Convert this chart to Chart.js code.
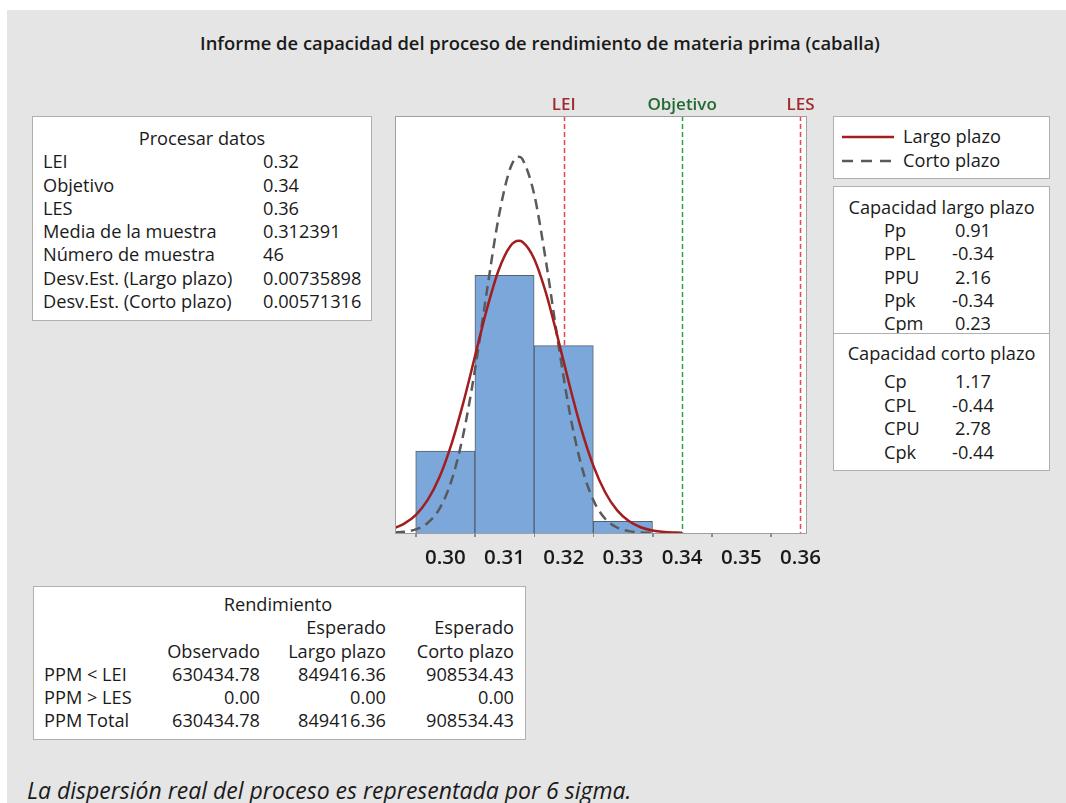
<!DOCTYPE html>
<html>
<head>
<meta charset="utf-8">
<script src="https://cdn.jsdelivr.net/npm/chart.js@4.4.1/dist/chart.umd.min.js"></script>
<style>
  html, body { margin: 0; padding: 0; background: #fff; }
  body { width: 1066px; height: 803px; position: relative; overflow: hidden;
         font-family: "Open Sans", "Noto Sans", sans-serif; color: #1a1a1a; }
  #panel { position: absolute; left: 7px; top: 10px; right: 0; bottom: 0; background: #e5e5e5; }
  .abs { position: absolute; }
  .box { position: absolute; background: #fff; border: 1px solid #b0b0b0; box-sizing: border-box; }
  #title { left: 0; width: 1080px; top: 30px; line-height: 26px; text-align: center; font-size: 18.4px; font-weight: 600; }
  .rows { font-size: 18.2px; line-height: 23.3px; }
  .rows td { padding: 0; white-space: nowrap; }
  table { border-collapse: collapse; }
  #foot { left: 27px; top: 774px; font-size: 23px; line-height: 32px; font-style: italic; }
  #chartWrap { left: 385px; top: 88px; width: 460px; height: 485px; }
</style>
</head>
<body>
<div id="panel"></div>
<div id="title" class="abs">Informe de capacidad del proceso de rendimiento de materia prima (caballa)</div>

<div class="box" style="left:32px; top:116px; width:340px; height:205px;">
  <div class="abs rows" style="left:0; width:338px; top:10px; text-align:center;">Procesar datos</div>
  <table class="rows" style="position:absolute; left:10px; top:33.3px;">
    <tr><td style="width:220px;">LEI</td><td>0.32</td></tr>
    <tr><td>Objetivo</td><td>0.34</td></tr>
    <tr><td>LES</td><td>0.36</td></tr>
    <tr><td>Media de la muestra</td><td>0.312391</td></tr>
    <tr><td>Número de muestra</td><td>46</td></tr>
    <tr><td>Desv.Est. (Largo plazo)</td><td>0.00735898</td></tr>
    <tr><td>Desv.Est. (Corto plazo)</td><td>0.00571316</td></tr>
  </table>
</div>

<div class="box" style="left:833px; top:116px; width:217px; height:63px;">
  <svg class="abs" style="left:7px; top:0;" width="60" height="60">
    <line x1="1" y1="20" x2="53" y2="20" stroke="#a31d1f" stroke-width="2.5"/>
    <line x1="1" y1="44" x2="53" y2="44" stroke="#5a5a5a" stroke-width="2.5" stroke-dasharray="11,8"/>
  </svg>
  <div class="abs rows" style="left:69px; top:7px; line-height:24px;">Largo plazo<br>Corto plazo</div>
</div>

<div class="box" style="left:833px; top:186px; width:217px; height:285px;">
  <div class="abs rows" style="left:0; width:215px; top:9px; text-align:center;">Capacidad largo plazo</div>
  <table class="rows" style="position:absolute; left:50px; top:32px;">
    <tr><td style="width:62px;">Pp</td><td style="width:54px; text-align:center;">0.91</td></tr>
    <tr><td>PPL</td><td style="text-align:center;">-0.34</td></tr>
    <tr><td>PPU</td><td style="text-align:center;">2.16</td></tr>
    <tr><td>Ppk</td><td style="text-align:center;">-0.34</td></tr>
    <tr><td>Cpm</td><td style="text-align:center;">0.23</td></tr>
  </table>
  <div class="abs" style="left:0; width:215px; top:146px; border-top:1px solid #b0b0b0;"></div>
  <div class="abs rows" style="left:0; width:215px; top:155px; text-align:center;">Capacidad corto plazo</div>
  <table class="rows" style="position:absolute; left:50px; top:183px; line-height:23.5px;">
    <tr><td style="width:62px;">Cp</td><td style="width:54px; text-align:center;">1.17</td></tr>
    <tr><td>CPL</td><td style="text-align:center;">-0.44</td></tr>
    <tr><td>CPU</td><td style="text-align:center;">2.78</td></tr>
    <tr><td>Cpk</td><td style="text-align:center;">-0.44</td></tr>
  </table>
</div>

<div class="box" style="left:33px; top:586px; width:493px; height:154px;">
  <div class="abs rows" style="left:184px; width:120px; top:6px; text-align:center;">Rendimiento</div>
  <table class="rows" style="position:absolute; left:10px; top:29.3px;">
    <tr><td style="width:100px;"></td><td style="width:116px;"></td><td style="width:126px; text-align:right;">Esperado</td><td style="width:128px; text-align:right;">Esperado</td></tr>
    <tr><td></td><td style="text-align:right;">Observado</td><td style="text-align:right;">Largo plazo</td><td style="text-align:right;">Corto plazo</td></tr>
    <tr><td>PPM &lt; LEI</td><td style="text-align:right;">630434.78</td><td style="text-align:right;">849416.36</td><td style="text-align:right;">908534.43</td></tr>
    <tr><td>PPM &gt; LES</td><td style="text-align:right;">0.00</td><td style="text-align:right;">0.00</td><td style="text-align:right;">0.00</td></tr>
    <tr><td>PPM Total</td><td style="text-align:right;">630434.78</td><td style="text-align:right;">849416.36</td><td style="text-align:right;">908534.43</td></tr>
  </table>
</div>

<div id="foot" class="abs">La dispersión real del proceso es representada por 6 sigma.</div>

<div id="chartWrap" class="abs"><canvas id="capChart"></canvas></div>

<script>
// histogram bins (centre, count)
var binCenters = [0.30, 0.31, 0.32, 0.33];
var binCounts = [7, 22, 16, 1];

// fitted curves (counts per bin width)
var longX = [0.2915, 0.293, 0.295, 0.297, 0.299, 0.301, 0.303, 0.305, 0.307, 0.309, 0.311, 0.3124, 0.313,
             0.315, 0.317, 0.319, 0.321, 0.323, 0.325, 0.327, 0.329, 0.331, 0.333, 0.335, 0.337, 0.339, 0.340];
var longY = [0.44, 0.78, 1.53, 2.80, 4.76, 7.53, 11.05, 15.06, 19.07, 22.43, 24.50, 24.94, 24.86,
             23.42, 20.50, 16.66, 12.58, 8.82, 5.75, 3.48, 1.95, 1.02, 0.49, 0.22, 0.09, 0.04, 0.02];
var shortX = [0.2915, 0.293, 0.295, 0.297, 0.299, 0.301, 0.303, 0.305, 0.307, 0.309, 0.311, 0.3124, 0.313,
              0.315, 0.317, 0.319, 0.321, 0.323, 0.325, 0.327, 0.329, 0.331, 0.333, 0.335];
var shortY = [0.04, 0.10, 0.31, 0.85, 2.06, 4.40, 8.32, 13.91, 20.58, 26.93, 31.18, 32.12, 31.94,
              28.94, 23.20, 16.45, 10.32, 5.73, 2.81, 1.22, 0.47, 0.16, 0.05, 0.01];

// spec limits
var specValues = [0.32, 0.34, 0.36];
var specLabels = ['LEI', 'Objetivo', 'LES'];
var specLineColors = ['#e8464b', '#27a844', '#e8464b'];
var specTextColors = ['#9e2a2e', '#216b33', '#9e2a2e'];

// axis
var tickValues = [0.30, 0.31, 0.32, 0.33, 0.34, 0.35, 0.36];
var minorTickValues = [0.295, 0.305, 0.315, 0.325, 0.335, 0.345, 0.355];

function pairs(xs, ys) {
    return xs.map(function (x, i) { return { x: x, y: ys[i] }; });
}

var plotFrame = {
    id: 'plotFrame',
    beforeDraw: function (chart) {
        var ctx = chart.ctx, a = chart.chartArea;
        ctx.save();
        ctx.fillStyle = '#fff';
        ctx.fillRect(a.left, a.top, a.right - a.left, a.bottom - a.top);
        ctx.restore();
    },
    beforeDatasetsDraw: function (chart) {
        var ctx = chart.ctx, a = chart.chartArea, xs = chart.scales.x;
        ctx.save();
        ctx.lineWidth = 1.5;
        ctx.setLineDash([5, 3]);
        specValues.forEach(function (v, i) {
            var px = Math.round(xs.getPixelForValue(v)) + 0.5;
            ctx.strokeStyle = specLineColors[i];
            ctx.beginPath();
            ctx.moveTo(px, a.top);
            ctx.lineTo(px, a.bottom);
            ctx.stroke();
        });
        ctx.restore();
    },
    afterDraw: function (chart) {
        var ctx = chart.ctx, a = chart.chartArea, xs = chart.scales.x;
        ctx.save();
        ctx.strokeStyle = '#a0a0a0';
        ctx.lineWidth = 1;
        ctx.strokeRect(a.left + 0.5, a.top + 0.5, a.right - a.left - 1, a.bottom - a.top);
        ctx.strokeStyle = '#8c8c8c';
        minorTickValues.forEach(function (v) {
            var px = Math.round(xs.getPixelForValue(v)) + 0.5;
            ctx.beginPath();
            ctx.moveTo(px, a.bottom);
            ctx.lineTo(px, a.bottom + 4);
            ctx.stroke();
        });
        ctx.font = '600 17px "Open Sans", sans-serif';
        ctx.textAlign = 'center';
        ctx.textBaseline = 'middle';
        specValues.forEach(function (v, i) {
            ctx.fillStyle = specTextColors[i];
            ctx.fillText(specLabels[i], xs.getPixelForValue(v), a.top - 11);
        });
        ctx.restore();
    }
};

new Chart(document.getElementById('capChart'), {
    type: 'bar',
    data: {
        datasets: [
            {
                type: 'line',
                label: 'Largo plazo',
                data: pairs(longX, longY),
                borderColor: '#a31d1f',
                borderWidth: 2.5,
                pointRadius: 0,
                fill: false,
                cubicInterpolationMode: 'monotone',
                order: 1
            },
            {
                type: 'line',
                label: 'Corto plazo',
                data: pairs(shortX, shortY),
                borderColor: '#5a5a5a',
                borderWidth: 2.5,
                borderDash: [10, 6],
                pointRadius: 0,
                fill: false,
                cubicInterpolationMode: 'monotone',
                order: 2
            },
            {
                label: 'Frecuencia',
                data: pairs(binCenters, binCounts),
                backgroundColor: '#7ba7da',
                borderColor: '#575f6c',
                borderWidth: 1,
                barPercentage: 1,
                categoryPercentage: 1,
                order: 3
            }
        ]
    },
    options: {
        responsive: true,
        maintainAspectRatio: false,
        animation: false,
        layout: { padding: { left: 10, top: 28, right: 38, bottom: 0 } },
        plugins: { legend: { display: false }, tooltip: { enabled: false } },
        scales: {
            x: {
                type: 'linear',
                min: 0.2915,
                max: 0.3611,
                offset: false,
                afterBuildTicks: function (axis) {
                    axis.ticks = tickValues.map(function (v) { return { value: v }; });
                },
                afterFit: function (axis) { axis.height = 40; },
                border: { display: false },
                grid: { drawOnChartArea: false, drawTicks: true, tickLength: 4, color: '#8c8c8c' },
                ticks: {
                    autoSkip: false,
                    maxRotation: 0,
                    padding: 9,
                    color: '#1a1a1a',
                    font: { family: '"Open Sans", sans-serif', size: 20.5, weight: '600' },
                    callback: function (value) { return value.toFixed(2); }
                }
            },
            y: {
                display: false,
                min: 0,
                max: 35.6
            }
        }
    },
    plugins: [plotFrame]
});
</script>
</body>
</html>
